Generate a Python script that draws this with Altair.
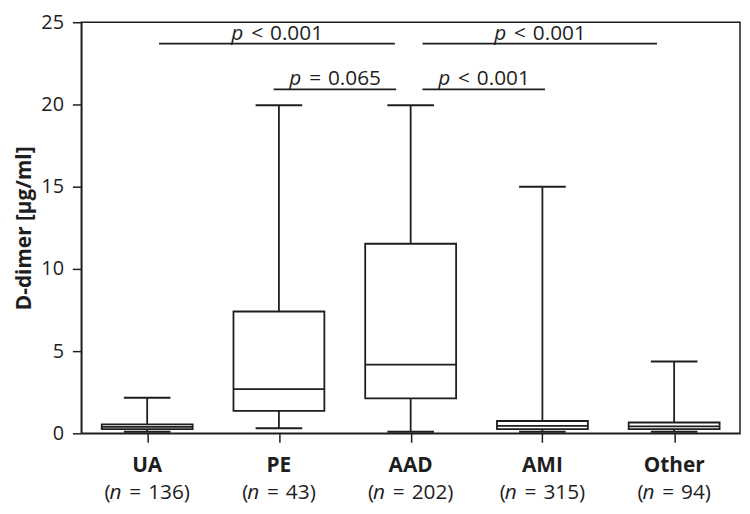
import altair as alt
import pandas as pd

categories = ["UA", "PE", "AAD", "AMI", "Other"]
n_values = [136, 43, 202, 315, 94]
whisker_low = [0.1, 0.31, 0.1, 0.1, 0.1]
q1 = [0.25, 1.37, 2.12, 0.25, 0.25]
median = [0.39, 2.69, 4.18, 0.45, 0.43]
q3 = [0.55, 7.41, 11.53, 0.75, 0.66]
whisker_high = [2.16, 19.95, 19.95, 15.0, 4.37]

# comparison brackets (in category-position units) and their labels
SP = "\u2004"
comp_start = [0.09, 2.09, 0.96, 2.09]
comp_end = [1.88, 3.87, 1.89, 3.02]
comp_level = [23.7, 23.7, 20.92, 20.92]
comp_rest = ["<" + SP + "0.001", "<" + SP + "0.001",
             "=" + SP + "0.065", "<" + SP + "0.001"]

FONT = "Open Sans"
INK = "#1e1e1e"
FS = 20
FS2 = 21

box = pd.DataFrame({
    "cat": categories,
    "pos": list(range(len(categories))),
    "n": n_values,
    "lo": whisker_low,
    "q1": q1,
    "med": median,
    "q3": q3,
    "hi": whisker_high,
})
box["nrest"] = ["=" + SP + "%d)" % v for v in n_values]
box["digits"] = [len(str(v)) for v in n_values]

comp = pd.DataFrame({
    "start": comp_start,
    "end": comp_end,
    "level": comp_level,
    "rest": comp_rest,
})

xs = alt.Scale(domain=[-0.5, 4.5], nice=False, zero=False)
ys = alt.Scale(domain=[0, 25], nice=False)

xq = alt.X("pos:Q", scale=xs,
           axis=alt.Axis(values=[0, 1, 2, 3, 4], labels=False, title=None, grid=False,
                         tickSize=9, tickWidth=1.5, tickColor=INK,
                         domainColor=INK, domainWidth=1.5))
yq = alt.Y("lo:Q", scale=ys,
           axis=alt.Axis(values=[0, 5, 10, 15, 20, 25], title="D-dimer [µg/ml]", grid=False,
                         tickSize=9, tickWidth=1.5, tickColor=INK,
                         domainColor=INK, domainWidth=1.5,
                         labelFont=FONT, labelFontSize=FS, labelColor=INK, labelPadding=9,
                         titleFont=FONT, titleFontSize=21, titleFontWeight="bold",
                         titleColor=INK, titlePadding=6))

base = alt.Chart(box)

whisk = base.mark_rule(color=INK, strokeWidth=1.8).encode(
    x=xq, y=yq, y2="hi:Q")

caps_hi = base.transform_calculate(a="datum.pos - 0.177", b="datum.pos + 0.177").mark_rule(
    color=INK, strokeWidth=2).encode(
    x=alt.X("a:Q", scale=xs), x2="b:Q", y=alt.Y("hi:Q", scale=ys))
caps_lo = base.transform_calculate(a="datum.pos - 0.177", b="datum.pos + 0.177").mark_rule(
    color=INK, strokeWidth=2).encode(
    x=alt.X("a:Q", scale=xs), x2="b:Q", y=alt.Y("lo:Q", scale=ys))

rect = base.transform_calculate(a="datum.pos - 0.345", b="datum.pos + 0.345").mark_rect(
    fill="white", stroke=INK, strokeWidth=1.8).encode(
    x=alt.X("a:Q", scale=xs), x2="b:Q", y=alt.Y("q1:Q", scale=ys), y2="q3:Q")

med = base.transform_calculate(a="datum.pos - 0.345", b="datum.pos + 0.345").mark_rule(
    color=INK, strokeWidth=1.8).encode(
    x=alt.X("a:Q", scale=xs), x2="b:Q", y=alt.Y("med:Q", scale=ys))

cat_lab = base.mark_text(font=FONT, fontSize=FS2, fontWeight="bold", color=INK,
                         baseline="middle", align="center").encode(
    x=alt.X("pos:Q", scale=xs), y=alt.value(448), text="cat:N")

n_layers = []
for digits, start in [(3, -43), (2, -37)]:
    sub = base.transform_filter("datum.digits == %d" % digits)
    n_layers.append(sub.mark_text(font=FONT, fontSize=FS2, color=INK, baseline="middle",
                                  align="left", dx=start).encode(
        x=alt.X("pos:Q", scale=xs), y=alt.value(475), text=alt.value("(")))
    n_layers.append(sub.mark_text(font=FONT, fontSize=FS2, color=INK, baseline="middle",
                                  align="left", fontStyle="italic", dx=start + 5).encode(
        x=alt.X("pos:Q", scale=xs), y=alt.value(475), text=alt.value("n")))
    n_layers.append(sub.mark_text(font=FONT, fontSize=FS2, color=INK, baseline="middle",
                                  align="left", dx=start + 25).encode(
        x=alt.X("pos:Q", scale=xs), y=alt.value(475), text="nrest:N"))

cbase = alt.Chart(comp).transform_calculate(mid="(datum.start + datum.end) / 2")
comp_line = cbase.mark_rule(color=INK, strokeWidth=1.8).encode(
    x=alt.X("start:Q", scale=xs), x2="end:Q", y=alt.Y("level:Q", scale=ys))
comp_p = cbase.mark_text(font=FONT, fontSize=FS2, color=INK, fontStyle="italic",
                         align="left", baseline="alphabetic", dx=-46, dy=-4).encode(
    x=alt.X("mid:Q", scale=xs), y=alt.Y("level:Q", scale=ys), text=alt.value("p"))
comp_t = cbase.mark_text(font=FONT, fontSize=FS2, color=INK,
                         align="left", baseline="alphabetic", dx=-26, dy=-4).encode(
    x=alt.X("mid:Q", scale=xs), y=alt.Y("level:Q", scale=ys), text="rest:N")

chart = alt.layer(
    whisk, caps_hi, caps_lo, rect, med, cat_lab, *n_layers, comp_line, comp_p, comp_t
).properties(
    width=665, height=415,
    autosize=alt.AutoSizeParams(type="none"),
    padding={"left": 74, "top": 12, "right": 2, "bottom": 76},
).configure_view(
    stroke=INK, strokeWidth=1.5
)

chart.save("out.html", embed_options={"renderer": "svg", "actions": False})
